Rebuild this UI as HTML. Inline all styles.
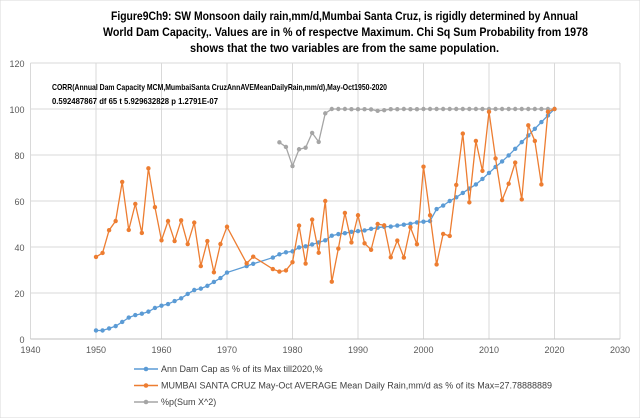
<!DOCTYPE html>
<html><head><meta charset="utf-8"><style>
body{margin:0;background:#fff;}
svg{display:block;font-family:"Liberation Sans",Arial,sans-serif;}
</style></head><body>
<svg id="chart" width="640" height="418">
<rect width="640" height="418" fill="#fff" stroke="#d9d9d9"/>
<g font-weight="bold" font-size="12" fill="#000">
<text x="111" y="20" textLength="467" lengthAdjust="spacingAndGlyphs">Figure9Ch9: SW Monsoon  daily rain,mm/d,Mumbai  Santa Cruz, is rigidly determined by Annual</text>
<text x="103" y="36" textLength="485" lengthAdjust="spacingAndGlyphs">World Dam Capacity,. Values are in % of respectve Maximum. Chi Sq Sum Probability from 1978</text>
<text x="190" y="52" textLength="309" lengthAdjust="spacingAndGlyphs">shows that the two variables are from the same population.</text>
</g>
<g id="grid"></g>
<g id="axes"></g>
<g font-size="8.5" font-weight="bold" fill="#000">
<text x="52" y="90" textLength="335" lengthAdjust="spacingAndGlyphs">CORR(Annual Dam Capacity MCM,MumbaiSanta CruzAnnAVEMeanDailyRain,mm/d),May-Oct1950-2020</text>
<text x="52" y="104" textLength="166" lengthAdjust="spacingAndGlyphs">0.592487867  df 65  t 5.929632828  p 1.2791E-07</text>
</g>
<g id="series"></g>
<g id="legend" font-size="9" fill="#404040"></g>
</svg>
<script>
const xTicks=[1940,1950,1960,1970,1980,1990,2000,2010,2020,2030];
const yTicks=[0,20,40,60,80,100,120];
const damYears=[1950,1951,1952,1953,1954,1955,1956,1957,1958,1959,1960,1961,1962,1963,1964,1965,1966,1967,1968,1969,1970,1973,1974,1977,1978,1979,1980,1981,1982,1983,1984,1985,1986,1987,1988,1989,1990,1991,1992,1993,1994,1995,1996,1997,1998,1999,2000,2001,2002,2003,2004,2005,2006,2007,2008,2009,2010,2011,2012,2013,2014,2015,2016,2017,2018,2019,2020];
const damValues=[3.7,3.7,4.6,5.6,7.4,9.3,10.4,11.0,11.9,13.5,14.5,15.2,16.5,17.7,19.6,21.3,21.9,23.1,24.8,26.5,28.9,31.7,32.7,35.4,36.8,37.7,38.1,39.8,40.3,41.1,42.0,42.9,44.9,45.6,46.0,46.6,46.9,47.2,47.9,48.4,48.8,48.9,49.3,49.7,50.1,50.7,51.0,51.3,56.5,58.0,60.0,61.6,63.5,65.4,67.2,69.6,72.2,74.8,77.2,79.8,82.7,85.6,88.5,91.4,94.3,97.2,100];
const rainYears=damYears;
const rainValues=[35.7,37.4,47.3,51.3,68.3,47.4,58.7,46.1,74.2,57.3,42.9,51.3,42.6,51.6,41.3,50.6,31.7,42.6,29.0,41.3,48.8,32.9,35.8,30.4,29.3,29.8,33.4,49.3,32.8,51.9,37.5,60.0,24.9,39.3,54.8,42.0,53.8,41.6,38.8,50.0,49.4,35.5,42.8,35.4,48.6,41.2,74.9,53.8,32.4,45.7,44.8,67.0,89.3,59.4,86.1,73.1,98.8,78.5,60.4,67.5,76.7,60.7,92.9,86.1,67.2,98.8,100];
const chiYears=[1978,1979,1980,1981,1982,1983,1984,1985,1986,1987,1988,1989,1990,1991,1992,1993,1994,1995,1996,1997,1998,1999,2000,2001,2002,2003,2004,2005,2006,2007,2008,2009,2010,2011,2012,2013,2014,2015,2016,2017,2018,2019,2020];
const chiValues=[85.5,83.5,75.2,82.5,83.2,89.6,85.7,98.1,100,100,100,99.9,99.9,99.9,99.8,99.2,99.5,99.9,99.9,100,99.9,99.9,100,100,100,100,100,100,100,100,100,100,100,100,100,100,100,100,100,100,100,100,100];
const legendLabels=["Ann Dam Cap as % of its Max till2020,%","MUMBAI SANTA CRUZ May-Oct AVERAGE Mean Daily Rain,mm/d as % of its Max=27.78888889","%p(Sum X^2)"];
const colors=["#5b9bd5","#ed7d31","#a5a5a5"];

const NS="http://www.w3.org/2000/svg";
const X0=30.5,X1=620,Y0=339,Y1=63;
function xs(v){return X0+(v-1940)/(2030-1940)*(X1-X0);}
function ys(v){return Y0-v/120*(Y0-Y1);}
function mk(t,a,p){const e=document.createElementNS(NS,t);for(const k in a)e.setAttribute(k,a[k]);p.appendChild(e);return e;}
const grid=document.getElementById('grid'),axes=document.getElementById('axes');
yTicks.forEach(v=>{if(v>0){const l=mk('line',{x1:X0,x2:X1,y1:ys(v),y2:ys(v),stroke:'#d9d9d9'},grid);

}
const t=mk('text',{x:X0-6,y:ys(v)+4,'text-anchor':'end','font-size':'9',fill:'#595959'},axes);t.textContent=v;

});
xTicks.forEach(v=>{const l=mk('line',{x1:xs(v),x2:xs(v),y1:Y1,y2:Y0,stroke:'#d9d9d9'},grid);


const t=mk('text',{x:xs(v),y:Y0+14,'text-anchor':'middle','font-size':'9',fill:'#595959'},axes);t.textContent=v;

});
const ax=mk('line',{x1:X0,x2:X1,y1:Y0,y2:Y0,stroke:'#bfbfbf'},axes);


const ser=document.getElementById('series');
function drawSeries(xsA,vs,c,name,r){const g=mk('g',{},ser);


mk('polyline',{points:xsA.map((x,i)=>xs(x)+','+ys(vs[i])).join(' '),fill:'none',stroke:c,'stroke-width':'1.3'},g);
xsA.forEach((x,i)=>{const p=mk('circle',{cx:xs(x),cy:ys(vs[i]),r:r,fill:c},g);

});}
drawSeries(damYears,damValues,colors[0],'dam-capacity-series',2.2);
drawSeries(chiYears,chiValues,colors[2],'chi-sq-probability-series',2.2);
drawSeries(rainYears,rainValues,colors[1],'mumbai-rain-series',2.2);
const lg=document.getElementById('legend');
legendLabels.forEach((s,i)=>{const y=369+i*16.5;const g=mk('g',{},lg);


mk('line',{x1:134,x2:158,y1:y,y2:y,stroke:colors[i],'stroke-width':'1.5'},g);
mk('circle',{cx:146,cy:y,r:2.3,fill:colors[i]},g);
const t=mk('text',{x:161,y:y+3},g);t.textContent=s;});
</script>
</body></html>
